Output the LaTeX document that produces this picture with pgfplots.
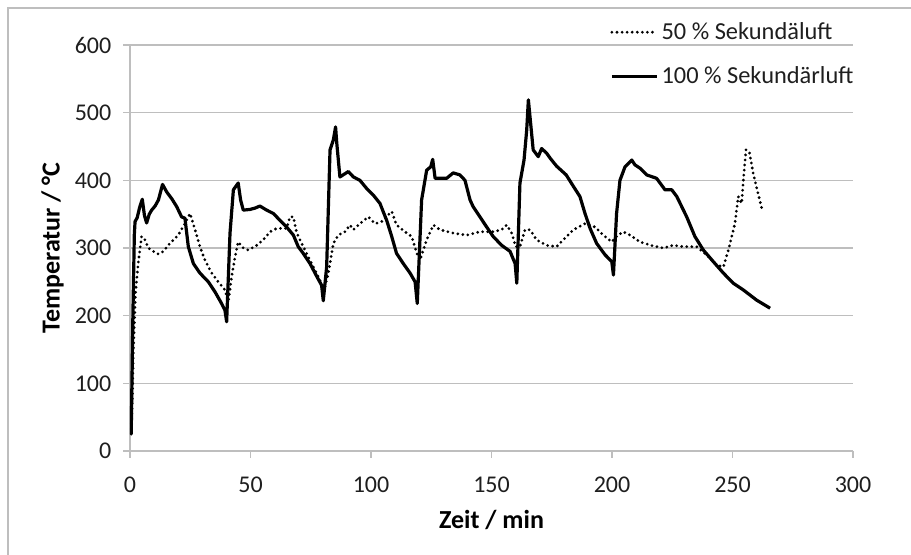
\documentclass[border=0pt]{standalone}
\usepackage{fontspec}
\setmainfont{Carlito}
\usepackage{pgfplots}
\pgfplotsset{compat=1.18}
\definecolor{gridgray}{RGB}{190,190,190}
\definecolor{txt}{RGB}{30,30,30}
\begin{document}
\begin{tikzpicture}
\useasboundingbox (-97.5pt,-77.25pt) rectangle (585.75pt,338.25pt);
\draw[gridgray, line width=0.8pt] (-91.5pt,-80pt) -- (-91.5pt,332.25pt) -- (590pt,332.25pt);
\begin{axis}[
  at={(0pt,0pt)}, anchor=south west,
  scale only axis, width=542.25pt, height=304.5pt,
  xmin=0, xmax=300, ymin=0, ymax=600,
  xtick={0,50,...,300}, ytick={0,100,...,600},
  axis x line=bottom, axis y line=left,
  axis line style={gridgray, line width=0.8pt, -},
  tick style={gridgray, line width=0.8pt},
  major tick length=5pt, tick align=outside,
  ymajorgrids, grid style={gridgray, line width=0.8pt},
  /pgf/number format/assume math mode=true,
  tick label style={font=\fontsize{18}{20}\selectfont, text=txt},
  xticklabel style={yshift=-11pt},
  yticklabel style={xshift=-5.5pt},
  xlabel={\textbf{Zeit / min}},
  ylabel={\textbf{Temperatur / °C}},
  label style={font=\fontsize{19.5}{22}\selectfont, text=black},
  xlabel style={yshift=-6pt},
  ylabel style={yshift=1.5pt},
  legend cell align=left,
  legend image code/.code={\draw[#1] (0pt,0pt) -- (34pt,0pt);},
  legend style={at={(0.664,1.062)}, anchor=north west, draw=none, fill=none,
    font=\fontsize{18.3}{20}\selectfont, text=txt, row sep=15pt, inner sep=0pt,
    nodes={inner sep=2pt}},
]
\addplot[black, line width=2.3pt, line cap=round, dash pattern=on 0pt off 3.8pt] coordinates {
(0.5,25)(1,80)(1.4,149)(2.3,235)(3.4,277)(4.8,317)(6.2,312)(7.6,300)(9.7,295)(11.8,291)(13.8,295)(16.6,307)(20,319)(22.8,336)(24.9,351)(27,327)(29,302)(31.1,282)(33.9,263)(36.6,250)(39.4,238)(40.8,221)(42.2,258)(43.6,287)(44.9,309)(47,300)(49.1,297)(52.6,304)(55.3,312)(58.1,324)(60.9,329)(65,329)(66.4,346)(67.8,346)(69.2,322)(71.2,307)(73.3,292)(76.1,272)(78.8,253)(80.2,233)(82.3,263)(84.4,307)(86.4,319)(89.2,324)(91.3,334)(92.7,327)(95.4,336)(98.9,346)(101.7,336)(104.4,339)(107.2,349)(108.6,354)(110.6,334)(114.1,324)(116.9,317)(119,292)(120.3,282)(123.1,312)(125.9,334)(128.6,327)(134.1,322)(139.7,319)(145.2,324)(150.7,324)(154.2,327)(156.3,334)(158.4,322)(160,302)(161.8,302)(163.9,327)(166,327)(168.7,312)(172.9,304)(177,302)(179.8,312)(184,327)(188.8,336)(193,331)(196.4,319)(199.9,309)(201.9,317)(204.6,324)(207.5,319)(211.6,309)(217.1,303)(221.3,300)(225.4,304)(229.5,302)(235.1,302)(239.2,290)(243.4,275)(246.2,272)(248.3,297)(251,336)(252.4,376)(253.8,366)(254.5,400)(255.6,445)(257,442)(258.6,410)(262.1,359)
};
\addlegendentry{50 \% Sekundäluft}
\addplot[black, line width=2.4pt, line join=round] coordinates {
(0.5,25)(1.2,200)(1.8,320)(2.1,339)(3,345)(4,360)(5.1,372)(6,348)(6.9,337)(8,350)(9,356)(10.4,362)(11.8,371)(13.5,394)(15.2,383)(17.3,373)(19.4,361)(21.4,346)(22.8,344)(24.2,302)(26.3,277)(29,263)(32.5,250)(35.3,235)(38,218)(39.4,208)(40.1,191)(41.5,322)(42.9,386)(44.9,396)(45.9,371)(47,356)(49.8,357)(51.9,359)(53.9,362)(56.7,356)(59.5,351)(62.2,341)(65,331)(67.8,319)(69.8,302)(71.9,292)(74.7,277)(77.5,258)(79.5,245)(80.2,222)(81.6,272)(83,445)(84.4,460)(85.3,479)(85.8,455)(87.1,405)(90.6,413)(92.7,405)(95.4,400)(98.2,388)(101,378)(103.7,366)(106.5,341)(108.6,317)(110.6,292)(113.4,277)(116.2,263)(118.3,250)(119.2,218)(121,371)(123.1,415)(124.8,420)(125.6,431)(126.6,403)(128.6,403)(131.4,403)(134.1,411)(136.9,408)(139,400)(141.1,371)(142.4,361)(145.2,346)(148,331)(150.7,317)(154.2,304)(157.7,295)(159.8,277)(160.5,248)(161.8,396)(163.5,430)(164.6,474)(165.3,519)(167.3,445)(169.4,435)(170.8,447)(172.9,440)(174.5,432)(177,421)(181,408)(184,391)(186.7,376)(188.8,351)(190.9,329)(193.6,307)(197.1,290)(199.9,280)(200.6,260)(201.9,351)(203.3,400)(205.4,420)(208.2,430)(209.5,423)(211.6,418)(214.4,408)(218.5,403)(222,386)(224.8,386)(226.9,376)(231,346)(234.4,317)(237.9,297)(242,280)(246.2,263)(250.3,248)(254.5,238)(260,223)(265.6,211)
};
\addlegendentry{100 \% Sekundärluft}
\end{axis}
\end{tikzpicture}
\end{document}
